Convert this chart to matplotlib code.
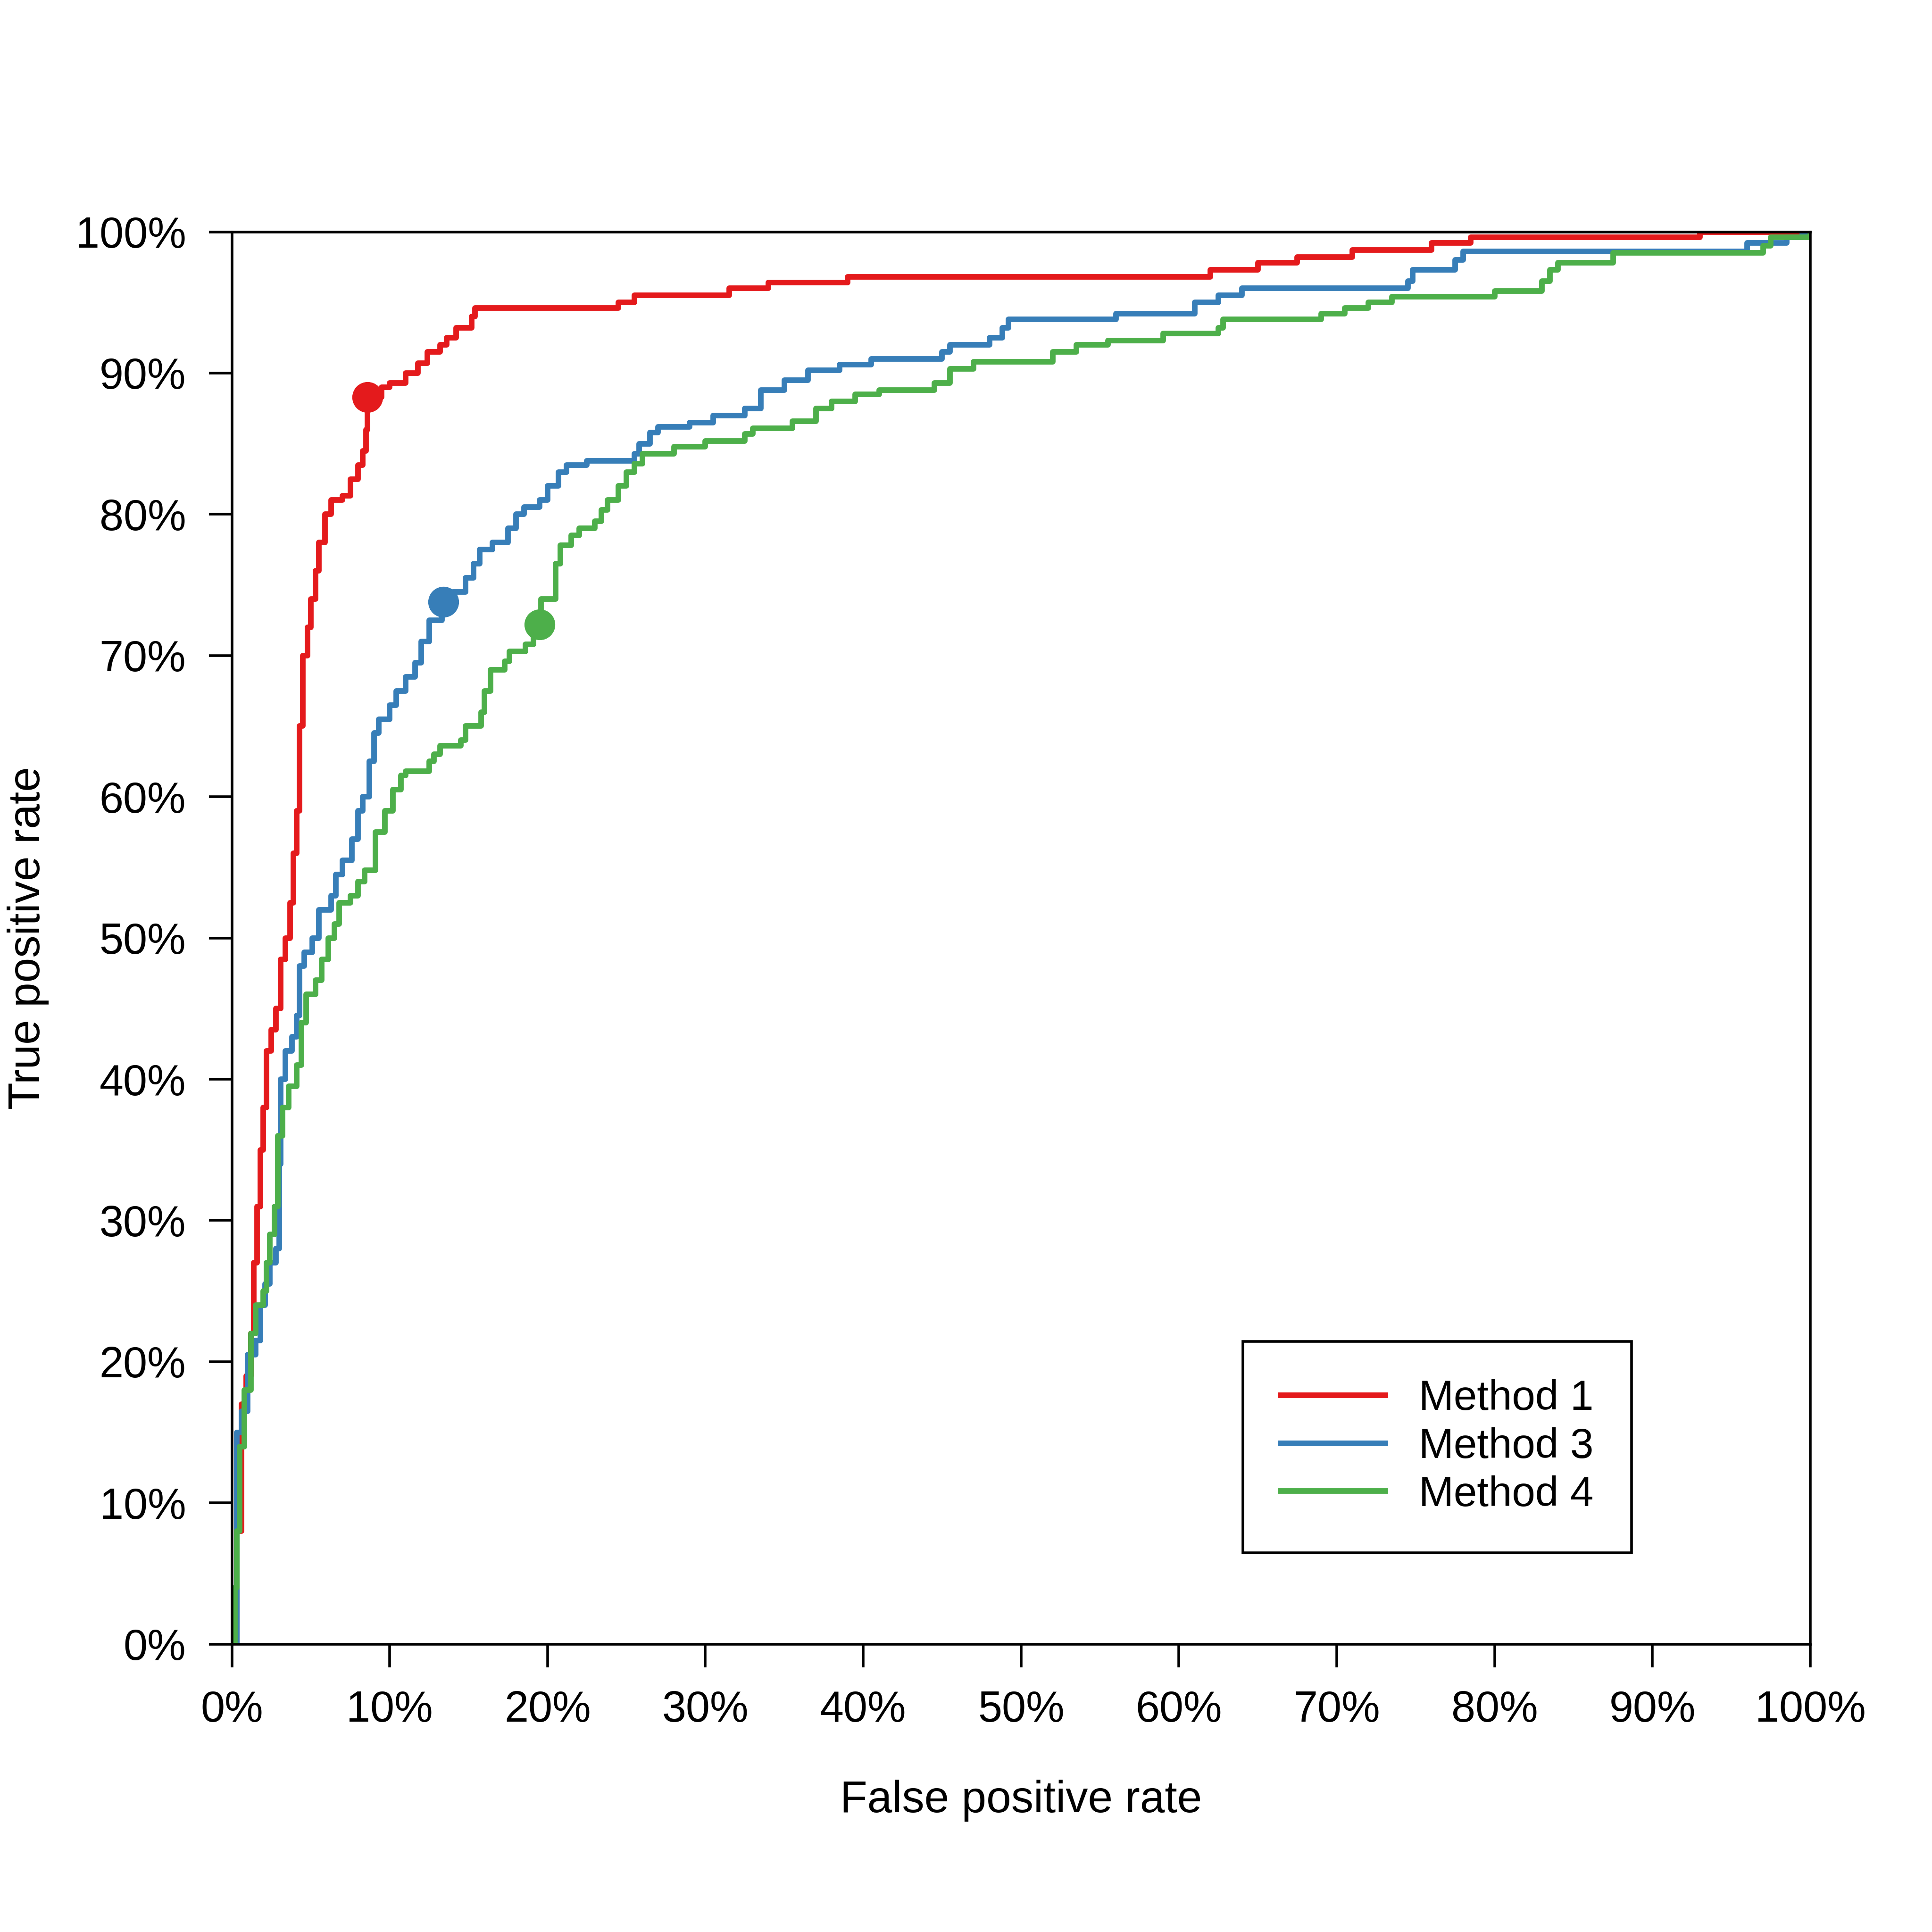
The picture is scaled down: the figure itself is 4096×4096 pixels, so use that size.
import matplotlib
matplotlib.use('Agg')
import matplotlib.pyplot as plt

plt.rcParams['font.family'] = ['Liberation Sans', 'DejaVu Sans']

# ROC curves (FPR %, TPR %)
m1_x = [0, 0.3, 0.6, 0.9, 1.2, 1.4, 1.6, 1.8, 2, 2.2, 2.5, 2.8, 3.1, 3.4, 3.7, 3.9, 4.1, 4.3, 4.5, 4.8, 5.0, 5.3, 5.5, 5.9, 6.3, 7, 7.5, 8, 8.3, 8.5, 8.6, 9.5, 10, 11, 11.8, 12.4, 13.2, 13.6, 14.2, 15.2, 15.4, 24.5, 25.5, 31.5, 34, 39, 62, 65, 67.5, 71, 76, 78.5, 93, 100]
m1_y = [0, 8, 17, 19, 22, 27, 31, 35, 38, 42, 43.5, 45, 48.5, 50, 52.5, 56, 59, 65, 70, 72, 74, 76, 78, 80, 81, 81.3, 82.5, 83.5, 84.5, 86, 88.3, 89, 89.3, 90, 90.7, 91.5, 92, 92.5, 93.2, 94, 94.6, 95, 95.5, 96, 96.4, 96.8, 97.3, 97.8, 98.2, 98.7, 99.2, 99.6, 100, 100]

m3_x = [0, 0.3, 0.6, 1, 1.5, 1.8, 2.1, 2.4, 2.8, 3, 3.1, 3.4, 3.8, 4.1, 4.3, 4.6, 5.1, 5.5, 6.3, 6.6, 7, 7.6, 8, 8.3, 8.7, 9, 9.3, 10, 10.4, 11, 11.6, 12, 12.5, 13.3, 14, 14.8, 15.3, 15.7, 16.5, 17.5, 18, 18.5, 19.5, 20, 20.7, 21.2, 22.5, 25.5, 25.8, 26.5, 27, 29, 30.5, 32.5, 33.5, 35, 36.5, 38.5, 40.5, 45, 45.5, 48, 48.8, 49.2, 56, 61, 62.5, 64, 74.5, 74.8, 77.5, 78, 96, 98.5, 99.5, 100]
m3_y = [0, 15, 16.5, 20.5, 21.5, 24, 25.5, 27, 28, 34, 40, 42, 43, 44.5, 48, 49, 50, 52, 53, 54.5, 55.5, 57, 59, 60, 62.5, 64.5, 65.5, 66.5, 67.5, 68.5, 69.5, 71, 72.5, 73.8, 74.5, 75.5, 76.5, 77.5, 78, 79, 80, 80.5, 81, 82, 83, 83.5, 83.8, 84.3, 85, 85.8, 86.2, 86.5, 87, 87.5, 88.8, 89.5, 90.2, 90.6, 91, 91.5, 92, 92.5, 93.2, 93.8, 94.2, 95, 95.5, 96, 96.5, 97.3, 98, 98.6, 99.2, 99.6, 100, 100]

m4_x = [0, 0.2, 0.3, 0.5, 0.8, 1.2, 1.5, 2, 2.2, 2.4, 2.7, 2.9, 3.2, 3.6, 4.1, 4.4, 4.7, 5.3, 5.7, 6.1, 6.5, 6.8, 7.5, 8, 8.4, 9.1, 9.7, 10.2, 10.7, 11, 12.5, 12.8, 13.2, 14.5, 14.8, 15.8, 16, 16.4, 17.3, 17.6, 18.6, 19.1, 19.5, 19.6, 20.5, 20.8, 21.5, 22, 23, 23.4, 23.8, 24.5, 25, 25.5, 26, 28, 30, 32.5, 33, 35.5, 37, 38, 39.5, 41, 44.5, 45.5, 47, 52, 53.5, 55.5, 59, 62.5, 62.8, 69, 70.5, 72, 73.5, 80, 83, 83.5, 84, 87.5, 97, 97.5, 100]
m4_y = [0, 4, 8, 14, 18, 22, 24, 25, 27, 29, 31, 36, 38, 39.5, 41, 44, 46, 47, 48.5, 50, 51, 52.5, 53, 54, 54.8, 57.5, 59, 60.5, 61.5, 61.8, 62.5, 63, 63.6, 64, 65, 66, 67.5, 69, 69.6, 70.3, 70.8, 71.5, 72.2, 74, 76.5, 77.8, 78.5, 79, 79.5, 80.3, 81, 82, 83, 83.6, 84.3, 84.8, 85.2, 85.7, 86.1, 86.6, 87.5, 88, 88.5, 88.8, 89.3, 90.3, 90.8, 91.5, 92, 92.3, 92.8, 93.2, 93.8, 94.2, 94.6, 95, 95.4, 95.8, 96.5, 97.3, 97.8, 98.5, 99, 99.6, 100]

# operating points
pt_x = [8.6, 13.4, 19.5]
pt_y = [88.3, 73.8, 72.2]

labels = ['Method 1', 'Method 3', 'Method 4']
colors = ['#E41A1C', '#377EB8', '#4DAF4A']

fig = plt.figure(figsize=(40.96, 40.96), dpi=100)
ax = fig.add_axes([0.120, 0.149, 0.817, 0.731])

for xs, ys, lab, c, px, py in zip([m1_x, m3_x, m4_x], [m1_y, m3_y, m4_y], labels, colors, pt_x, pt_y):
    ax.plot(xs, ys, drawstyle='steps-post', color=c, lw=8.5, label=lab)
    ax.plot(px, py, 'o', color=c, ms=46, zorder=5)

ticks = list(range(0, 101, 10))
ax.set_xlim(0, 100)
ax.set_ylim(0, 100)
ax.set_xticks(ticks)
ax.set_yticks(ticks)
ax.set_xticklabels([f'{t}%' for t in ticks], fontsize=66)
ax.set_yticklabels([f'{t}%' for t in ticks], fontsize=66)
ax.tick_params(direction='out', length=35, width=4, pad=35)
for s in ax.spines.values():
    s.set_linewidth(4)
ax.set_xlabel('False positive rate', fontsize=68, labelpad=75)
ax.set_ylabel('True positive rate', fontsize=68, labelpad=40)

leg = ax.legend(loc='lower right', bbox_to_anchor=(0.9, 0.05), fontsize=64,
                fancybox=False, edgecolor='black', framealpha=1,
                borderpad=0.9, handlelength=2.5, labelspacing=0.2)
leg.get_frame().set_linewidth(4)

fig.savefig('out.png', dpi=100)
